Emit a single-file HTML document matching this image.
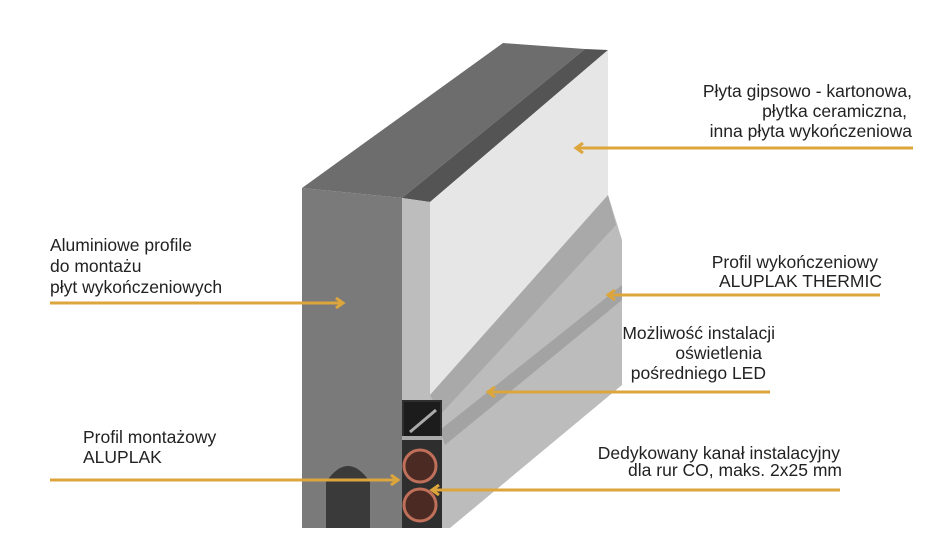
<!DOCTYPE html>
<html><head><meta charset="utf-8"><style>
html,body{margin:0;padding:0;background:#fff;}
svg{display:block;}
text{font-family:"Liberation Sans",sans-serif;font-size:17.5px;fill:#222;}
</style></head><body>
<svg width="945" height="533" viewBox="0 0 945 533" xmlns="http://www.w3.org/2000/svg">
<defs>
<marker id="a" markerWidth="12" markerHeight="12" refX="9" refY="6" orient="auto" markerUnits="userSpaceOnUse">
<path d="M2,1 L9,6 L2,11" fill="none" stroke="#dca63c" stroke-width="3"/>
</marker>
</defs>
<polygon points="302,188 503,43 585,49 402,198" fill="#6d6d6d"/>
<polygon points="402,198 585,49 608,50 430,202" fill="#545454"/>
<polygon points="302,188 402,198 402,528 302,528" fill="#7a7a7a"/>
<path d="M326,528 L326,482 Q348,450 370,482 L370,528 Z" fill="#3a3a3a"/>
<polygon points="402,198 430,202 430,400 402,400" fill="#bdbdbd"/>
<polygon points="430,202 608,50 608,195 430,395" fill="#e6e6e6"/>
<polygon points="430,395 608,195 622,240 622,385 450,528 430,528" fill="#bcbcbc"/>
<polygon points="430,395 608,195 616,225 440,415" fill="#a9a9a9"/>
<polygon points="440,430 622,285 622,300 445,445" fill="#a3a3a3"/>
<rect x="402" y="400" width="40" height="128" fill="#2e2e2e"/>
<rect x="404" y="402" width="36" height="34" fill="#1c1c1c"/>
<line x1="410" y1="432" x2="436" y2="410" stroke="#aaa" stroke-width="3"/>
<rect x="402" y="436" width="40" height="4" fill="#aaa"/>
<circle cx="420" cy="466" r="16" fill="#4a2a22" stroke="#c0705a" stroke-width="3"/>
<circle cx="420" cy="505" r="16" fill="#4a2a22" stroke="#c0705a" stroke-width="3"/>
<g stroke="#dca63c" stroke-width="3" fill="none">
<line x1="913" y1="148" x2="576" y2="148" marker-end="url(#a)"/>
<line x1="50" y1="303" x2="343" y2="303" marker-end="url(#a)"/>
<line x1="880" y1="295" x2="608" y2="295" marker-end="url(#a)"/>
<line x1="770" y1="392" x2="488" y2="392" marker-end="url(#a)"/>
<line x1="50" y1="480" x2="398" y2="480" marker-end="url(#a)"/>
<line x1="840" y1="490" x2="432" y2="490" marker-end="url(#a)"/>
</g>
<g text-anchor="end">
<text x="912" y="97">Płyta gipsowo - kartonowa,</text>
<text x="907" y="117">płytka ceramiczna,</text>
<text x="912" y="137">inna płyta wykończeniowa</text>
<text x="878" y="268">Profil wykończeniowy</text>
<text x="882" y="287">ALUPLAK THERMIC</text>
<text x="775" y="339">Możliwość instalacji</text>
<text x="762" y="359">oświetlenia</text>
<text x="766" y="379">pośredniego LED</text>
<text x="840" y="459">Dedykowany kanał instalacyjny</text>
<text x="842" y="476">dla rur CO,  maks. 2x25 mm</text>
</g>
<text x="50" y="251">Aluminiowe profile</text>
<text x="50" y="272">do montażu</text>
<text x="50" y="293">płyt wykończeniowych</text>
<text x="83" y="443">Profil montażowy</text>
<text x="83" y="463">ALUPLAK</text>
</svg>
</body></html>
